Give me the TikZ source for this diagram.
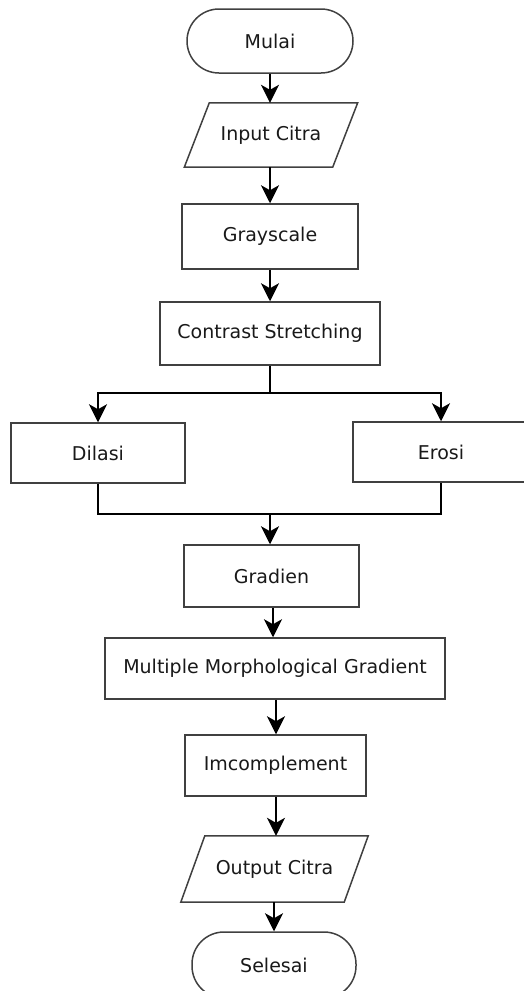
\documentclass[tikz,border=0pt]{standalone}
\usepackage{fontspec}
\setmainfont{DejaVu Sans}
\usetikzlibrary{arrows.meta,calc}
\begin{document}
\begin{tikzpicture}[x=1pt,y=-1pt,
  txt/.style={inner sep=0pt, font=\fontsize{19}{22}\selectfont, text=black!90},
  box/.style={txt, draw=black!75, line width=1.5pt, rectangle},
  term/.style={box, rounded corners=32pt},
  pbox/.style={draw=black!75, line width=1.5pt},
  line/.style={line width=1.8pt, black},
  conn/.style={line, -{Stealth[length=18pt,width=18pt,inset=5pt]}}]
\useasboundingbox (0,0) rectangle (524,991);

\node[term, minimum width=166pt, minimum height=64pt] (start) at (270,41) {Mulai};
\node[txt, minimum width=148pt, minimum height=64pt] (in) at (271,135) {Input Citra};
\draw[pbox] ([xshift=12.5pt]in.north west) -- ([xshift=12.5pt]in.north east)
  -- ([xshift=-12.5pt]in.south east) -- ([xshift=-12.5pt]in.south west) -- cycle;
\node[box, minimum width=176pt, minimum height=65pt] (gray) at (270,236.5) {Grayscale};
\node[box, minimum width=220pt, minimum height=63pt] (cs) at (270,333.5) {Contrast Stretching};
\node[box, minimum width=174pt, minimum height=60pt] (dil) at (98,453) {Dilasi};
\node[box, minimum width=176pt, minimum height=60pt] (ero) at (441,452) {Erosi};
\node[box, minimum width=175pt, minimum height=62pt] (grad) at (271.5,576) {Gradien};
\node[box, minimum width=340pt, minimum height=61pt] (mmg) at (275,668.5) {Multiple Morphological Gradient};
\node[box, minimum width=181pt, minimum height=61pt] (imc) at (275.5,765.5) {Imcomplement};
\node[txt, minimum width=163pt, minimum height=66pt] (out) at (274.5,869) {Output Citra};
\draw[pbox] ([xshift=12pt]out.north west) -- ([xshift=12pt]out.north east)
  -- ([xshift=-12pt]out.south east) -- ([xshift=-12pt]out.south west) -- cycle;
\node[term, minimum width=164pt, minimum height=66pt] (end) at (274,965) {Selesai};

\coordinate (split) at (270,393);
\coordinate (join) at (270,514);

\draw[conn] (start.south) -- (start.south |- in.north);
\draw[conn] (in.south -| start.south) -- (start.south |- gray.north);
\draw[conn] (gray.south) -- (gray.south |- cs.north);
\draw[line] (cs.south) -- (cs.south |- split);
\draw[conn] (cs.south |- split) -| (dil.north);
\draw[conn] (cs.south |- split) -| (ero.north);
\draw[line] (dil.south) |- (ero.south |- join) -- (ero.south);
\draw[conn] (join) -- (join |- grad.north);
\draw[conn] ([xshift=1.5pt]grad.south) -- ([xshift=1.5pt]grad.south |- mmg.north);
\draw[conn] ([xshift=1pt]mmg.south) -- ([xshift=1pt]mmg.south |- imc.north);
\draw[conn] ([xshift=0.5pt]imc.south) -- ([xshift=0.5pt]imc.south |- out.north);
\draw[conn] (end.north |- out.south) -- (end.north);
\end{tikzpicture}
\end{document}
